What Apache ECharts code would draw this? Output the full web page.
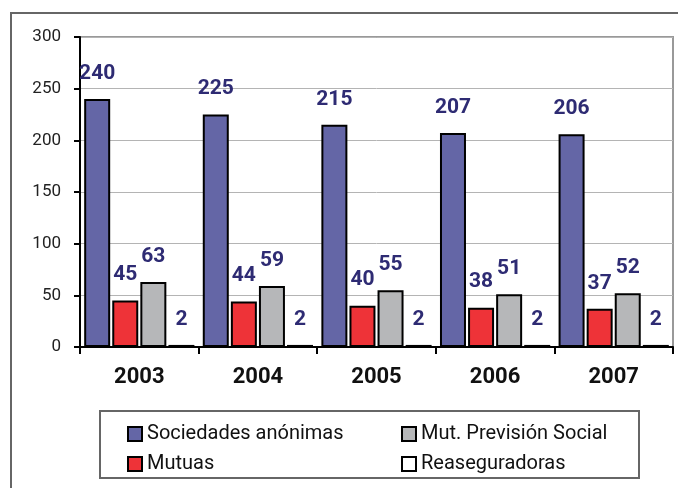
<!DOCTYPE html>
<html>
<head>
<meta charset="utf-8">
<script src="https://cdn.jsdelivr.net/npm/echarts@6/dist/echarts.min.js"></script>
<style>
  html, body { margin: 0; padding: 0; background: #fff; }
  #chart { width: 678px; height: 488px; }
</style>
</head>
<body>
<div id="chart"></div>
<script>
  // data
  const years = ['2003', '2004', '2005', '2006', '2007'];
  const sociedades = [240, 225, 215, 207, 206];
  const mutuas = [45, 44, 40, 38, 37];
  const mutPrevision = [63, 59, 55, 51, 52];
  const reaseguradoras = [2, 2, 2, 2, 2];
  const yTicks = [0, 50, 100, 150, 200, 250, 300];

  const font = 'Roboto';
  const labelColor = '#2E2B73';

  const list = [
    { name: 'Sociedades anónimas', color: '#6466A6', data: sociedades },
    { name: 'Mutuas', color: '#EE3338', data: mutuas },
    { name: 'Mut. Previsión Social', color: '#B6B7B9', data: mutPrevision },
    { name: 'Reaseguradoras', color: '#FFFFFF', data: reaseguradoras }
  ];

  let seriesList = [];
  list.forEach(item => {
    seriesList.push({
      name: item.name,
      type: 'bar',
      barWidth: 26,
      barGap: '8%',
      data: item.data,
      itemStyle: { color: item.color, borderColor: '#000', borderWidth: 2 },
      label: {
        show: true,
        position: 'top',
        distance: 15,
        fontFamily: font,
        fontWeight: 'bold',
        fontSize: 21,
        color: labelColor
      }
    });
  });

  const legendText = { fontFamily: font, fontSize: 20, color: '#111' };

  const myChart = echarts.init(document.getElementById('chart'));
  myChart.setOption({
    animation: false,
    textStyle: { fontFamily: font },
    grid: {
      left: 80, right: 5, top: 37, bottom: 141,
      show: true, borderColor: '#999', borderWidth: 2
    },
    graphic: [
      // outer frame (top + left edges)
      { type: 'polyline', shape: { points: [[11, 488], [11, 13], [678, 13]] },
        style: { stroke: '#666', lineWidth: 2, fill: null } },
      // legend box
      { type: 'rect', shape: { x: 100, y: 411, width: 539, height: 67 },
        style: { stroke: '#666', lineWidth: 2, fill: null } }
    ],
    legend: [
      {
        data: ['Sociedades anónimas', 'Mutuas'],
        orient: 'vertical', left: 122, top: 419, itemGap: 10,
        icon: 'rect', itemWidth: 14, itemHeight: 14,
        textStyle: legendText
      },
      {
        data: ['Mut. Previsión Social', 'Reaseguradoras'],
        orient: 'vertical', left: 396, top: 419, itemGap: 10,
        icon: 'rect', itemWidth: 14, itemHeight: 14,
        textStyle: legendText
      }
    ],
    xAxis: {
      type: 'category',
      data: years,
      axisLine: { lineStyle: { color: '#000', width: 2 } },
      axisTick: { show: true, length: 7, lineStyle: { color: '#000', width: 2 } },
      axisLabel: { fontFamily: font, fontWeight: 'bold', fontSize: 22, color: '#111', margin: 19 }
    },
    yAxis: {
      type: 'value',
      min: yTicks[0],
      max: yTicks[yTicks.length - 1],
      interval: yTicks[1] - yTicks[0],
      axisLine: { show: true, lineStyle: { color: '#000', width: 2 } },
      axisTick: { show: true, length: 6, lineStyle: { color: '#000', width: 2 } },
      axisLabel: { fontFamily: font, fontSize: 17, color: '#222', margin: 19 },
      splitLine: { lineStyle: { color: '#b4b4b4', width: 1 } }
    },
    series: seriesList
  });
</script>
</body>
</html>
